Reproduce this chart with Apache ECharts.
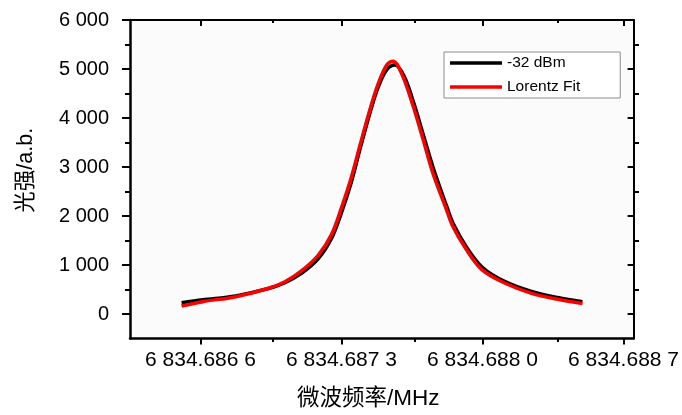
<!DOCTYPE html>
<html>
<head>
<meta charset="utf-8">
<script src="https://cdn.jsdelivr.net/npm/echarts@6/dist/echarts.min.js"></script>
<style>
  html, body { margin: 0; padding: 0; background: #ffffff; }
  #chart { width: 682px; height: 415px; }
</style>
</head>
<body>
<div id="chart"></div>
<script>
// 频率 (MHz)
const freqMeasured = [6834.686506, 6834.686611, 6834.686775, 6834.686938, 6834.687019, 6834.687101, 6834.687185,
  6834.687250, 6834.687299, 6834.687348, 6834.687394, 6834.687443, 6834.687485, 6834.687526, 6834.687565,
  6834.687610, 6834.687660, 6834.687710, 6834.687760, 6834.687822, 6834.687855, 6834.687920, 6834.688000,
  6834.688112, 6834.688243, 6834.688373, 6834.688496];
const intensityMeasured = [231, 290, 370, 520, 640, 830, 1130, 1540, 2060, 2680, 3400, 4130, 4660, 4990, 5080,
  4860, 4290, 3600, 2920, 2200, 1840, 1370, 950, 660, 460, 335, 250];

const freqFit = [6834.686506, 6834.686611, 6834.686775, 6834.686938, 6834.687019, 6834.687101, 6834.687185,
  6834.687250, 6834.687299, 6834.687348, 6834.687394, 6834.687443, 6834.687485, 6834.687526, 6834.687556,
  6834.687600, 6834.687656, 6834.687705, 6834.687754, 6834.687819, 6834.687852, 6834.687917, 6834.687998,
  6834.688112, 6834.688243, 6834.688373, 6834.688496];
const intensityFit = [163, 251, 353, 525, 659, 880, 1204, 1620, 2160, 2780, 3480, 4200, 4730, 5090, 5160,
  4890, 4235, 3560, 2870, 2150, 1790, 1330, 900, 627, 422, 300, 215];

const seriesNames = ['-32 dBm', 'Lorentz Fit'];

// 坐标轴刻度
const xMajorTicks = [6834.6866, 6834.6873, 6834.6880, 6834.6887];
const xTickLabels = ['6 834.686 6', '6 834.687 3', '6 834.688 0', '6 834.688 7'];
const xMinorTicks = [6834.68695, 6834.68765, 6834.68835];
const yMajorTicks = [0, 1000, 2000, 3000, 4000, 5000, 6000];
const yTickLabels = ['0', '1 000', '2 000', '3 000', '4 000', '5 000', '6 000'];
const yMinorTicks = [500, 1500, 2500, 3500, 4500, 5500];

const xMin = 6834.68625, xMax = 6834.68875;
const yMin = -500, yMax = 6000;

const FONT = '"Liberation Sans", Arial, "Noto Sans CJK SC", sans-serif';
const LEGEND_ICON = 'path://M0,0H52V3.5H0Z';
const gridRect = {left: 130, right: 43, top: 20, bottom: 76};

function pickLabel(ticks, labels) {
  return function (v) {
    for (let i = 0; i < ticks.length; i++) {
      if (Math.abs(ticks[i] - v) < 1e-6) return labels[i];
    }
    return '';
  };
}

function xAxisOf(gridIndex, position, ticks, len, inside, showLine, extra) {
  return Object.assign({
    type: 'value', gridIndex: gridIndex, position: position, min: xMin, max: xMax,
    splitLine: {show: false},
    axisLine: {show: showLine, onZero: false, lineStyle: {color: '#000', width: 2}},
    axisTick: {show: true, inside: inside, length: len, customValues: ticks, lineStyle: {color: '#000', width: 2}},
    axisLabel: {show: false}
  }, extra || {});
}

function yAxisOf(gridIndex, position, ticks, len, inside, showLine, extra) {
  return Object.assign({
    type: 'value', gridIndex: gridIndex, position: position, min: yMin, max: yMax,
    splitLine: {show: false},
    axisLine: {show: showLine, onZero: false, lineStyle: {color: '#000', width: 2}},
    axisTick: {show: true, inside: inside, length: len, customValues: ticks, lineStyle: {color: '#000', width: 2}},
    axisLabel: {show: false}
  }, extra || {});
}

const chart = echarts.init(document.getElementById('chart'));
chart.setOption({
  backgroundColor: '#ffffff',
  textStyle: {fontFamily: FONT},
  animation: false,
  grid: [
    Object.assign({show: true, backgroundColor: '#fbfbfb', borderWidth: 0}, gridRect),
    Object.assign({show: false}, gridRect) // 次刻度
  ],
  legend: {
    orient: 'vertical',
    left: 444, top: 52,
    padding: [2, 40, 2, 6],
    itemWidth: 52, itemHeight: 18, itemGap: 6,
    symbolKeepAspect: true,
    backgroundColor: '#ffffff',
    borderColor: '#8c8c8c', borderWidth: 1,
    textStyle: {fontSize: 15.5, color: '#000', fontFamily: FONT, lineHeight: 18},
    data: [
      {name: seriesNames[0], icon: LEGEND_ICON},
      {name: seriesNames[1], icon: LEGEND_ICON}
    ]
  },
  xAxis: [
    xAxisOf(0, 'bottom', xMajorTicks, 6, false, true, {
      name: '微波频率/MHz', nameLocation: 'middle', nameGap: 49,
      nameTextStyle: {fontSize: 22.5, color: '#000', fontFamily: FONT, padding: [0, 27, 0, 0]},
      axisLine: {show: true, onZero: false, lineStyle: {color: '#000', width: 2.5}},
      axisLabel: {show: true, customValues: xMajorTicks, formatter: pickLabel(xMajorTicks, xTickLabels),
        fontSize: 21, color: '#000', margin: 11, fontFamily: FONT}
    }),
    xAxisOf(0, 'top', xMajorTicks, 6, true, true),
    xAxisOf(1, 'bottom', xMinorTicks, 3, false, false),
    xAxisOf(1, 'top', xMinorTicks, 3, true, false)
  ],
  yAxis: [
    yAxisOf(0, 'left', yMajorTicks, 8, false, true, {
      name: '光强/a.b.', nameLocation: 'middle', nameGap: 93, nameRotate: 90,
      nameTextStyle: {fontSize: 21.5, color: '#000', fontFamily: FONT, padding: [0, 0, 0, 18]},
      axisLine: {show: true, onZero: false, lineStyle: {color: '#000', width: 2.5}},
      axisLabel: {show: true, customValues: yMajorTicks, formatter: pickLabel(yMajorTicks, yTickLabels),
        fontSize: 20, color: '#000', margin: 21, fontFamily: FONT}
    }),
    yAxisOf(0, 'right', yMajorTicks, 6, true, true),
    yAxisOf(1, 'left', yMinorTicks, 5, false, false),
    yAxisOf(1, 'right', yMinorTicks, 4, true, false)
  ],
  series: [
    {
      name: seriesNames[0], type: 'line', smooth: 0.35, symbol: 'none',
      xAxisIndex: 0, yAxisIndex: 0, z: 2,
      lineStyle: {color: '#000000', width: 3.5}, itemStyle: {color: '#000000'},
      data: freqMeasured.map((f, i) => [f, intensityMeasured[i]])
    },
    {
      name: seriesNames[1], type: 'line', smooth: 0.35, symbol: 'none',
      xAxisIndex: 0, yAxisIndex: 0, z: 3,
      lineStyle: {color: '#ff0000', width: 3.5}, itemStyle: {color: '#ff0000'},
      data: freqFit.map((f, i) => [f, intensityFit[i]])
    }
  ]
});
</script>
</body>
</html>
